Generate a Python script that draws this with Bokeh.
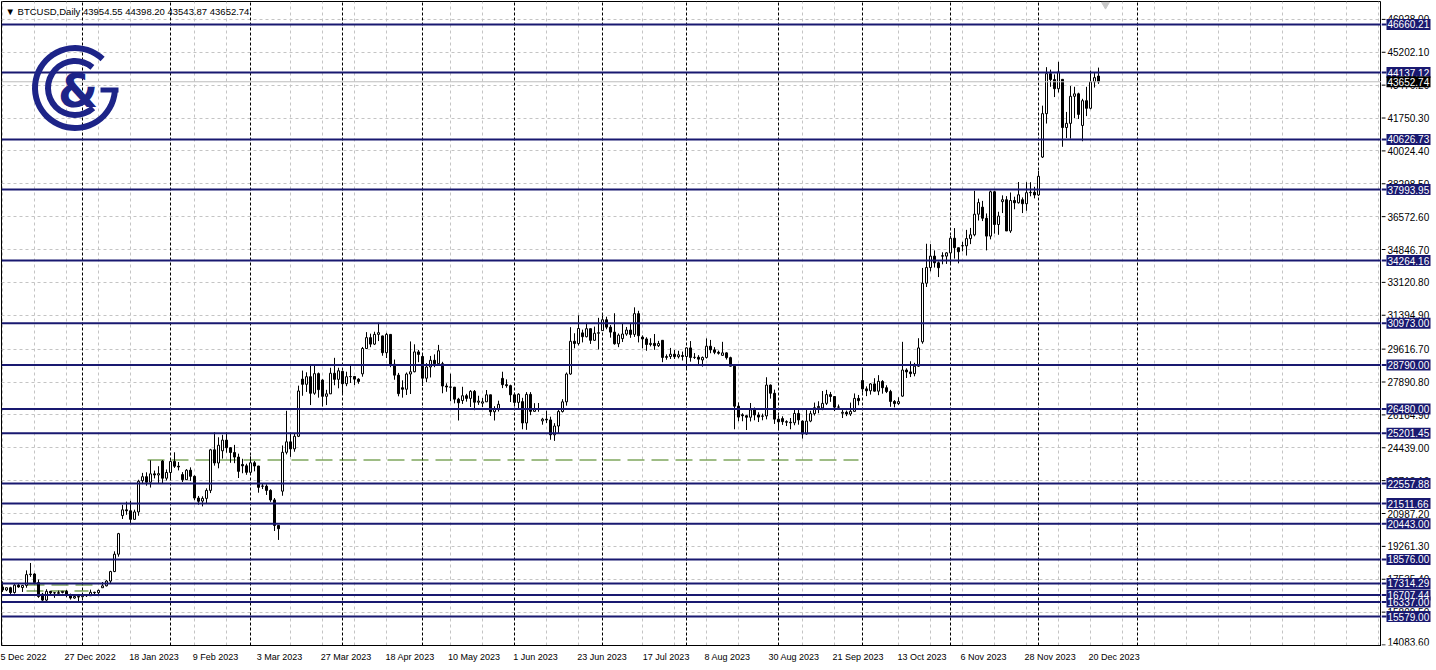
from bokeh.plotting import figure
from bokeh.layouts import row
from bokeh.models import ColumnDataSource, FixedTicker, Label, Range1d
from bokeh.core.properties import value
from bokeh.embed import file_html
from bokeh.resources import INLINE

# ---------------- data ----------------
symbol = "BTCUSD,Daily"
opens = [17130, 16970, 17090, 16840, 17225, 17100, 17210, 17780, 17810, 17360,
         16750, 16440, 16900, 16820, 16830, 16840, 16900, 16700, 16550, 16630,
         16620, 16680, 16670, 16850, 16830, 17090, 17190, 17440, 17940, 18850,
         20880, 21180, 21130, 20680, 21070, 22710, 22920, 22630, 23070, 23010,
         23740, 22840, 23140, 23720, 23470, 23030, 22760, 23260, 22940, 21800,
         21640, 21780, 22200, 24330, 23640, 24280, 24840, 24440, 24190, 23950,
         23560, 23490, 23150, 23650, 23480, 22430, 22420, 22200, 21700, 20360,
         22160, 24200, 24750, 24380, 25040, 28040, 27770, 28170, 27300, 28330,
         27990, 27140, 27270, 28350, 28030, 28450, 27800, 28170, 28180, 28040,
         28320, 29650, 30220, 29880, 30390, 30310, 29430, 30390, 28820, 28250,
         27590, 27510, 28310, 28430, 29470, 29230, 28090, 28680, 29030, 28850,
         28850, 27680, 27630, 27620, 26990, 26920, 27170, 27030, 27400, 26830,
         26780, 26850, 27220, 26330, 26480, 28080, 27750, 27700, 27220, 26820,
         26860, 25740, 27240, 26350, 26500, 25850, 25940, 25900, 25120, 25580,
         26340, 26850, 28310, 30030, 29910, 30470, 30270, 30690, 30080, 30450,
         30590, 31160, 30770, 30510, 29900, 30170, 30410, 30620, 30390, 31480,
         30250, 30150, 29860, 29920, 29800, 30080, 29180, 29230, 29350, 29220,
         29280, 29230, 29680, 29180, 29190, 29050, 29180, 29770, 29580, 29450,
         29290, 29420, 29170, 28720, 26620, 26170, 26120, 26040, 26430, 26160,
         26090, 26110, 27730, 27300, 25940, 25970, 25810, 25780, 25750, 26240,
         25840, 25160, 25840, 26230, 26540, 26530, 26770, 27230, 27130, 26570,
         26250, 26300, 26210, 26350, 27030, 27970, 27530, 27430, 27790, 27410,
         27920, 27590, 27390, 26870, 26760, 27150, 28520, 28420, 28330, 28720,
         30000, 33080, 33900, 34500, 34150, 34520, 34500, 34670, 35440, 34940,
         35050, 35040, 35420, 35620, 36700, 37070, 36490, 35550, 37880, 36160,
         37360, 37460, 35820, 37420, 37300, 37460, 37250, 37830, 37850, 37710,
         39700, 41980, 44080, 43770, 43290, 43780, 41250, 41470, 42890, 43020,
         41360, 42660, 42260, 43650, 43954.55]
highs = [17420, 17100, 17140, 17300, 17320, 17240, 18000, 18390, 17850, 17520,
         16820, 17010, 16900, 16860, 16940, 16920, 16970, 16780, 16660, 16640,
         16760, 16760, 16990, 16880, 16990, 17390, 17490, 17980, 19000, 19970,
         21440, 21610, 21650, 21190, 22760, 23120, 23150, 23780, 23240, 23470,
         23790, 23300, 23780, 24200, 23690, 23160, 23320, 23410, 22990, 21910,
         21890, 22310, 24380, 25250, 24990, 25120, 25250, 24470, 24590, 24130,
         23860, 23600, 23990, 23740, 23490, 22560, 22520, 22260, 21800, 20360,
         24560, 26380, 25240, 25170, 27700, 28490, 28400, 28780, 28750, 28390,
         28040, 27480, 28640, 29160, 28640, 28480, 28430, 28730, 28190, 28090,
         29730, 30510, 30430, 30530, 31000, 30320, 30470, 30410, 29070, 28370,
         27980, 28390, 30020, 29870, 29570, 29330, 28880, 29260, 29340, 29840,
         28950, 27820, 28330, 27630, 27060, 27640, 27270, 27460, 27470, 27170,
         27050, 27470, 27220, 26620, 26910, 28430, 28030, 27750, 27330, 27300,
         27060, 27360, 27360, 26780, 26790, 26010, 26380, 26070, 25730, 26460,
         26990, 28390, 30770, 30450, 31390, 30640, 31000, 30700, 30800, 31260,
         31380, 31320, 30880, 31500, 30440, 30960, 30780, 30970, 31810, 31630,
         30340, 30240, 30190, 30410, 30050, 30080, 29340, 29680, 29570, 29530,
         29490, 29710, 30040, 29410, 29300, 29230, 30180, 30100, 29720, 29540,
         30000, 29450, 29220, 28750, 26820, 26250, 26140, 26790, 26550, 26300,
         26230, 28140, 27760, 27490, 26130, 26090, 25880, 26000, 26420, 26420,
         25880, 26510, 26380, 26810, 26880, 27420, 27480, 27370, 27150, 26710,
         26430, 26390, 26810, 27290, 27210, 28590, 27660, 27830, 28090, 28250,
         27990, 27720, 27480, 26940, 27090, 30000, 28610, 28980, 28900, 30190,
         33880, 35150, 35130, 34800, 34220, 34700, 34700, 35560, 35970, 34940,
         35250, 35880, 35980, 37930, 37520, 37400, 36740, 37940, 37930, 36830,
         37690, 37650, 37840, 37620, 38390, 37580, 38380, 38380, 38140, 38970,
         42400, 44420, 44290, 44040, 44700, 43800, 42070, 43430, 43390, 43080,
         42760, 43390, 44240, 44150, 44398.20]
lows = [16870, 16910, 16690, 16780, 17090, 16870, 17090, 17660, 17280, 16560,
        16400, 16400, 16750, 16560, 16790, 16790, 16590, 16470, 16510, 16340,
        16570, 16610, 16660, 16760, 16680, 17090, 17160, 17320, 17910, 18720,
        20700, 20920, 20430, 20670, 20870, 22530, 22450, 22350, 22830, 22590,
        22550, 22720, 22760, 23380, 23250, 22640, 22750, 22700, 21690, 21450,
        21360, 21530, 22060, 23500, 23360, 23870, 24180, 23650, 23630, 22850,
        23100, 23020, 23030, 23200, 22080, 22270, 21960, 21600, 20070, 19600,
        21920, 24090, 23960, 24230, 25000, 27170, 27370, 26680, 27220, 27070,
        26600, 26680, 27260, 27720, 27560, 27280, 27670, 27840, 27730, 27800,
        28170, 29620, 29720, 29830, 30040, 29270, 29150, 28670, 28010, 27140,
        27070, 27210, 27260, 28400, 28930, 27680, 27880, 28130, 28670, 28820,
        27300, 27380, 26880, 26770, 25870, 26740, 26860, 26580, 26410, 26690,
        26570, 26840, 26110, 25870, 26340, 27570, 27590, 26840, 26600, 26510,
        25410, 25380, 26150, 26330, 26330, 25650, 25740, 24860, 24800, 25170,
        26290, 26650, 28270, 29660, 29810, 29970, 30230, 29890, 30050, 29600,
        30590, 30660, 30220, 29850, 29720, 29990, 30320, 30210, 30260, 29970,
        29660, 29530, 29760, 29580, 29730, 28930, 29060, 29100, 29100, 29130,
        29020, 28600, 28960, 29100, 28770, 28700, 29120, 29400, 29350, 29330,
        29270, 29070, 28710, 25410, 25830, 25830, 25370, 25820, 25880, 25790,
        25880, 25930, 27020, 25690, 25360, 25640, 25580, 25410, 25620, 25650,
        24920, 25130, 25780, 26130, 26250, 26410, 26680, 26850, 26370, 26500,
        26000, 26100, 26110, 26330, 26670, 27330, 27150, 27230, 27390, 27200,
        27280, 27310, 26590, 26560, 26690, 27110, 28100, 28150, 28190, 28680,
        29900, 32880, 33700, 33900, 33400, 34070, 34090, 34120, 34370, 34120,
        34750, 34530, 35130, 35540, 36370, 36340, 34800, 35380, 35680, 35620,
        36760, 35820, 35720, 36960, 37260, 36760, 36880, 37640, 37530, 37650,
        39650, 41460, 43390, 42850, 43090, 40240, 40700, 40670, 41740, 41700,
        40530, 41850, 42210, 43350, 43543.87]
closes = [16970, 17090, 16840, 17225, 17130, 17210, 17780, 17810, 17360, 16630,
          16440, 16900, 16820, 16830, 16800, 16900, 16700, 16550, 16630, 16600,
          16680, 16670, 16850, 16830, 16950, 17190, 17440, 17940, 18850, 19930,
          21180, 21130, 20680, 21070, 22680, 22920, 22630, 23070, 23010, 23080,
          22840, 23140, 23720, 23470, 23430, 22760, 23260, 22940, 21800, 21630,
          21780, 22200, 24330, 23640, 24570, 24840, 24440, 24190, 23950, 23200,
          23490, 23150, 23650, 23480, 22360, 22420, 22200, 21700, 20360, 20190,
          24200, 24750, 24380, 25040, 27420, 27770, 28170, 27300, 28330, 27490,
          27140, 27270, 28350, 28030, 28480, 27800, 28170, 28180, 28040, 27920,
          29650, 30220, 29880, 30390, 30480, 29430, 30390, 28820, 28250, 27280,
          27510, 28310, 28430, 29470, 29340, 28090, 28680, 29030, 28850, 29530,
          27680, 27630, 27620, 26990, 26800, 27170, 27030, 27400, 26830, 26890,
          26850, 27220, 26330, 26480, 26720, 27750, 27700, 27220, 26820, 27250,
          25740, 27240, 26350, 26500, 26480, 25940, 25900, 25120, 25580, 26340,
          26850, 28310, 30030, 29910, 30700, 30270, 30690, 30080, 30450, 30480,
          31160, 30770, 30510, 29900, 30350, 30410, 30620, 30390, 31480, 30320,
          30150, 29860, 29920, 29800, 29910, 29180, 29230, 29350, 29220, 29320,
          29230, 29680, 29180, 29190, 29090, 29180, 29770, 29580, 29450, 29400,
          29420, 29170, 28720, 26620, 26050, 26120, 26040, 26430, 26160, 26050,
          26110, 27730, 27300, 25940, 25800, 25810, 25780, 25750, 26240, 25900,
          25160, 25840, 26230, 26540, 26610, 26770, 27230, 27130, 26570, 26580,
          26300, 26210, 26350, 27030, 26910, 27530, 27430, 27790, 27410, 27930,
          27590, 27390, 26870, 26760, 26860, 28520, 28420, 28330, 28720, 29680,
          33080, 33900, 34500, 34150, 33890, 34500, 34670, 35440, 34940, 34730,
          35040, 35420, 35620, 36700, 37310, 36490, 35550, 37880, 36160, 36600,
          37460, 35820, 37420, 37300, 37720, 37250, 37830, 37850, 37710, 38690,
          41980, 44080, 43770, 43290, 44170, 41250, 41470, 42890, 43020, 41940,
          42660, 42260, 43650, 43870, 43652.74]

date_labels = ["5 Dec 2022", "27 Dec 2022", "18 Jan 2023", "9 Feb 2023", "3 Mar 2023",
               "27 Mar 2023", "18 Apr 2023", "10 May 2023", "1 Jun 2023", "23 Jun 2023",
               "17 Jul 2023", "8 Aug 2023", "30 Aug 2023", "21 Sep 2023", "13 Oct 2023",
               "6 Nov 2023", "28 Nov 2023", "20 Dec 2023"]
label_bars = [0, 16, 32, 48, 64, 80, 96, 112, 128, 144, 160, 176, 192, 208, 224, 240, 256, 272]
month_start_bars = [20, 42, 62, 85, 105, 128, 150, 171, 194, 215, 237, 259, 283.75]
price_ticks = [46928.00, 45202.10, 43476.20, 41750.30, 40024.40, 38298.50, 36572.60,
               34846.70, 33120.80, 31394.90, 29616.70, 27890.80, 26164.90, 24439.00,
               22713.10, 20987.20, 19261.30, 17535.40, 15809.50, 14083.60]
levels = [46660.21, 44137.12, 40626.73, 37993.95, 34264.16, 30973.00, 28790.00,
          26480.00, 25201.45, 22557.88, 21511.66, 20443.00, 18576.00, 17314.29,
          16707.44, 16337.00, 15579.00]
last_price = 43652.74
green_level_long = 23796
green_levels_short = [17234, 16919]

# ---------------- geometry / style ----------------
FONT = "Liberation Sans"
NAVY = "#191970"
GRID = "#c4c4c4"
GREEN = "#3f7a0c"
X0, X1 = -0.25, 344.75            # frame spans reference pixels 1..1381 (4 px per bar)
Y0, Y1 = 14057.5, 47867.5         # frame spans reference pixels 1..645
PX_PER_BAR = 4.0
PX_PER_PRICE = 1 / 52.5

ARIAL_W = {"0": 556, "1": 556, "2": 556, "3": 556, "4": 556, "5": 556, "6": 556, "7": 556,
           "8": 556, "9": 556, " ": 278, ".": 278}


def text_px(s, size):
    return sum(ARIAL_W.get(ch, 560 if ch.islower() else 680) for ch in s) * size / 1000.0


def rx(px):   # reference pixel x -> bar coordinate
    return (px - 2) / 4.0


def ry(py):   # reference pixel y -> price
    return 47920 - 52.5 * py


yr = Range1d(Y0, Y1)

# ---------------- main chart ----------------
p = figure(width=1381, height=670, output_backend="svg", toolbar_location=None,
           x_range=Range1d(X0, X1), y_range=yr, y_axis_location=None,
           min_border_left=1, min_border_right=0, min_border_top=1, min_border_bottom=25,
           background_fill_color="white", border_fill_color="white")
p.outline_line_color = "black"
p.outline_line_width = 1

XFS = 9
xax = p.xaxis[0]
xt = [b - 0.5 + text_px(s, XFS) / 2 / PX_PER_BAR for b, s in zip(label_bars, date_labels)]
xax.ticker = FixedTicker(ticks=xt)
xax.major_label_overrides = {t: s for t, s in zip(xt, date_labels)}
xax.major_tick_out = 0
xax.major_tick_in = 0
xax.minor_tick_out = 0
xax.minor_tick_in = 0
xax.major_label_standoff = 6
xax.major_label_text_font = FONT
xax.major_label_text_font_size = f"{XFS}px"
xax.major_label_text_color = "black"
xax.axis_line_color = "black"

grid_bars = [g for g in range(0, 345, 8) if all(abs(g - s) > 2 for s in month_start_bars)]
p.xgrid.ticker = FixedTicker(ticks=grid_bars)
p.ygrid.ticker = FixedTicker(ticks=price_ticks)
for g in (p.xgrid[0], p.ygrid[0]):
    g.grid_line_color = GRID
    g.grid_line_dash = "3 3"
    g.grid_line_width = 1

# month separators
p.segment(x0=month_start_bars, x1=month_start_bars, y0=[Y0] * len(month_start_bars),
          y1=[Y1] * len(month_start_bars), line_color="black", line_dash="3 2", line_width=1)

# green dashed lines
p.segment(x0=[rx(147)], x1=[rx(858)], y0=[green_level_long], y1=[green_level_long],
          line_color=GREEN, line_dash="17 7", line_width=1)
p.segment(x0=[rx(27), rx(26)], x1=[rx(92), rx(88)], y0=green_levels_short, y1=green_levels_short,
          line_color=GREEN, line_dash="17 7", line_width=1)

# candles
n = len(closes)
xs = list(range(n))
top = [max(o, c) for o, c in zip(opens, closes)]
bot = [min(o, c) for o, c in zip(opens, closes)]
fill = ["white" if c >= o else "black" for o, c in zip(opens, closes)]
src = ColumnDataSource(dict(x=xs, high=highs, low=lows, top=top, bottom=bot, fill=fill))
p.segment(x0="x", x1="x", y0="low", y1="high", source=src, line_color="black", line_width=1)
p.vbar(x="x", width=0.5, top="top", bottom="bottom", source=src,
       fill_color="fill", line_color="black", line_width=1)

# bid line
p.segment(x0=[X0], x1=[X1], y0=[last_price], y1=[last_price], line_color="#bdbdbd", line_width=1)

# horizontal levels
p.segment(x0=[X0] * len(levels), x1=[X1] * len(levels), y0=levels, y1=levels,
          line_color=NAVY, line_width=2)

# header text
p.add_layout(Label(x=rx(5), y=ry(11),
                   text="\u25bc " + symbol + " " + " ".join(f"{v:.2f}" for v in (opens[-1], highs[-1], lows[-1], closes[-1])),
                   text_color="black", text_font=FONT, text_font_size="9.5px",
                   text_baseline="middle", text_align="left"))

# chart-shift marker
p.scatter(x=[rx(1105)], y=[ry(4)], marker="inverted_triangle", size=8,
          fill_color="#c8c8c8", line_color="#c8c8c8")

# logo
LOGO = "#1d2488"
cx, cy = rx(74.5), ry(87.5)
p.annular_wedge(x=cx, y=cy, inner_radius=37, outer_radius=43, inner_radius_units="screen",
                outer_radius_units="screen", start_angle=0.81, end_angle=6.2, direction="anticlock",
                fill_color=LOGO, line_color=None)
p.annular_wedge(x=cx, y=cy, inner_radius=24, outer_radius=30, inner_radius_units="screen",
                outer_radius_units="screen", start_angle=0.87, end_angle=5.45, direction="anticlock",
                fill_color=LOGO, line_color=None)
p.rect(x=cx + 34.5 / PX_PER_BAR, y=cy - 2 / PX_PER_PRICE, width=18, height=5, width_units="screen",
       height_units="screen", fill_color=LOGO, line_color=None)
p.text(x=[cx + 3 / PX_PER_BAR], y=[cy - 3 / PX_PER_PRICE], text=["&"], text_font=value("DejaVu Sans"),
       text_font_style="bold", text_font_size="46px", text_color=LOGO,
       text_align="center", text_baseline="middle")

# ---------------- price scale (right strip, shares the price range) ----------------
SW = 55
s = figure(width=SW, height=670, output_backend="svg", toolbar_location=None,
           x_range=Range1d(0, SW), y_range=yr,
           x_axis_location=None, y_axis_location=None,
           min_border_left=0, min_border_right=0, min_border_top=1, min_border_bottom=25,
           background_fill_color="white", border_fill_color="white")
s.outline_line_color = None
s.xgrid.visible = False
s.ygrid.visible = False
SFS = "10px"
inner_ticks = price_ticks[:-1]
s.segment(x0=[0] * len(price_ticks), x1=[4] * len(price_ticks), y0=price_ticks, y1=price_ticks,
          line_color="black", line_width=1)
s.text(x=[6] * len(inner_ticks), y=inner_ticks, text=[f"{v:.2f}" for v in inner_ticks],
       text_font=value(FONT), text_font_size=SFS, text_color="black",
       text_align="left", text_baseline="middle")
s.text(x=[6], y=[Y0], text=[f"{price_ticks[-1]:.2f}"],
       text_font=value(FONT), text_font_size=SFS, text_color="black",
       text_align="left", text_baseline="bottom")
# level boxes
s.segment(x0=[0] * len(levels), x1=[5] * len(levels), y0=levels, y1=levels,
          line_color=NAVY, line_width=2)
s.rect(x=[27] * len(levels), y=levels, width=44, height=11, width_units="screen",
       height_units="screen", fill_color=NAVY, line_color=None)
s.text(x=[6] * len(levels), y=levels, text=[f"{v:.2f}" for v in levels],
       text_font=value(FONT), text_font_size=SFS, text_color="white",
       text_align="left", text_baseline="middle")
s.rect(x=[27], y=[last_price], width=44, height=11, width_units="screen",
       height_units="screen", fill_color="black", line_color=None)
s.text(x=[6], y=[last_price], text=[f"{last_price:.2f}"],
       text_font=value(FONT), text_font_size=SFS, text_color="white",
       text_align="left", text_baseline="middle")

layout = row(p, s, spacing=0)
open("out.html", "w").write(file_html(layout, INLINE))
